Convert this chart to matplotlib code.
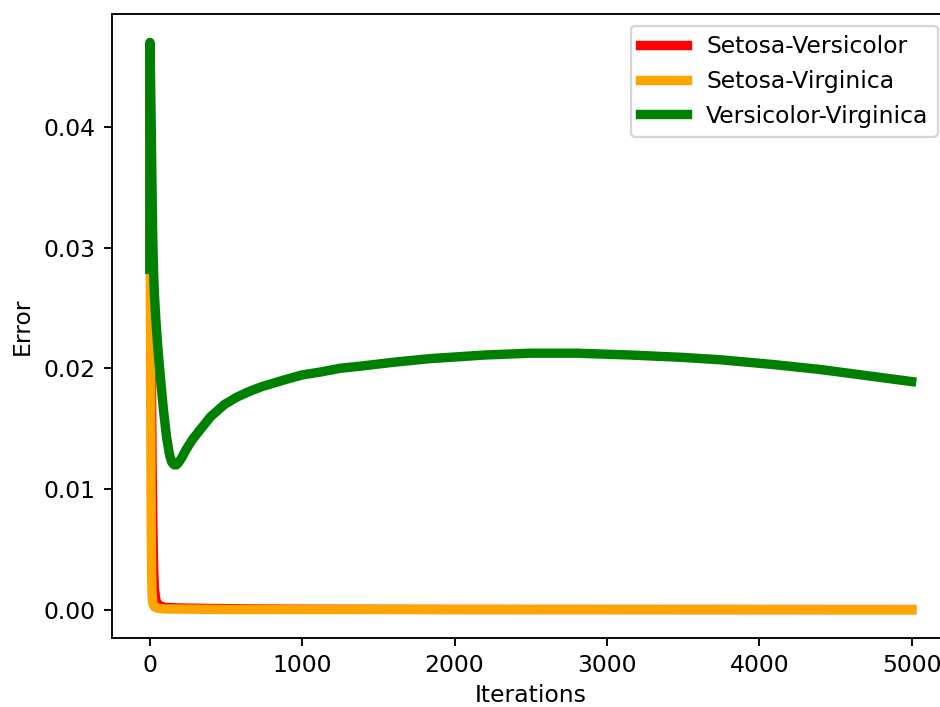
import matplotlib
matplotlib.use("Agg")
import matplotlib.pyplot as plt

labels = ["Setosa-Versicolor", "Setosa-Virginica", "Versicolor-Virginica"]
colors = ["red", "orange", "green"]

sv_iter = [0, 1, 2, 5, 10, 15, 20, 25, 30, 40, 50, 70, 100, 200, 400, 700, 1000, 2000, 5000]
sv_err = [0.0282, 0.0460, 0.0400, 0.0300, 0.0200, 0.0120, 0.0070, 0.0035, 0.0018, 0.0008,
          0.0005, 0.0003, 0.00018, 0.00014, 0.0001, 0.00006, 0.00004, 0.00002, 0.00001]

svg_iter = [0, 1, 2, 4, 6, 8, 10, 12, 15, 20, 30, 50, 100, 500, 5000]
svg_err = [0.0282, 0.0390, 0.0330, 0.0250, 0.0170, 0.0100, 0.0060, 0.0030, 0.0012, 0.0005,
           0.00025, 0.00012, 0.00006, 0.00002, 0.000005]

vv_iter = [0, 1, 5, 10, 15, 20, 25, 30, 40, 50, 60, 75, 90, 110, 130, 145, 160, 175, 190,
           210, 240, 280, 330, 400, 490, 570, 657, 740, 820, 900, 1000, 1125, 1250, 1400,
           1600, 1840, 2200, 2500, 2800, 3150, 3500, 3750, 4100, 4400, 4700, 5000]
vv_err = [0.0282, 0.0470, 0.0440, 0.0395, 0.0345, 0.0305, 0.0280, 0.0262, 0.0240, 0.0222,
          0.0206, 0.0185, 0.0165, 0.0143, 0.0128, 0.0122, 0.0120, 0.0120, 0.0122,
          0.0126, 0.0133, 0.0141, 0.0149, 0.0160, 0.0170, 0.0176, 0.0181, 0.0185, 0.0188,
          0.0191, 0.01945, 0.0197, 0.0200, 0.0202, 0.0205, 0.0208, 0.0211, 0.02125, 0.02125,
          0.0211, 0.0209, 0.0207, 0.0203, 0.0199, 0.0194, 0.0189]

W, H = 940, 707
dpi = 169
fig = plt.figure(figsize=(W / dpi, H / dpi), dpi=dpi)
ax = fig.add_axes([111.7 / W, (H - 638) / H, 838 / W, 624 / H])

lw = 4
ax.plot(sv_iter, sv_err, color=colors[0], lw=lw, label=labels[0])
ax.plot(svg_iter, svg_err, color=colors[1], lw=lw, label=labels[1])
ax.plot(vv_iter, vv_err, color=colors[2], lw=lw, label=labels[2])

ax.set_xlabel("Iterations", labelpad=3)
ax.set_ylabel("Error")
ax.set_yticks([0.0, 0.01, 0.02, 0.03, 0.04])
ax.set_xticks([0, 1000, 2000, 3000, 4000, 5000])
ax.legend(loc="upper right")

fig.savefig("out.png", dpi=dpi)
